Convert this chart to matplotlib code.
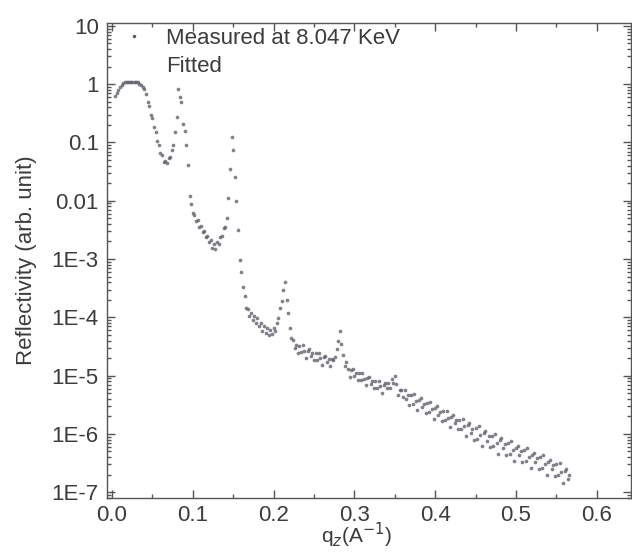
import matplotlib
matplotlib.use('Agg')
import matplotlib.pyplot as plt
import numpy as np
from matplotlib.lines import Line2D
from matplotlib.ticker import MultipleLocator, LogLocator, NullFormatter

plt.rcParams['font.family'] = ['Liberation Sans', 'DejaVu Sans']

# Measured reflectivity (log10 of R)
q_meas = [0.004, 0.006, 0.008, 0.010, 0.012, 0.014, 0.016, 0.018, 0.020, 0.022,
          0.024, 0.026, 0.028, 0.030, 0.032, 0.034, 0.036, 0.038, 0.040, 0.042,
          0.044, 0.046, 0.048, 0.050, 0.052, 0.054, 0.056, 0.058, 0.060, 0.062,
          0.064, 0.066, 0.068, 0.070, 0.072, 0.074, 0.076, 0.078, 0.080, 0.082,
          0.084, 0.086, 0.088, 0.090, 0.092, 0.094, 0.096, 0.098, 0.100, 0.102,
          0.104, 0.106, 0.108, 0.110, 0.112, 0.114, 0.116, 0.118, 0.120, 0.122,
          0.124, 0.126, 0.128, 0.130, 0.132, 0.134, 0.136, 0.138, 0.140, 0.142,
          0.144, 0.146, 0.148, 0.150, 0.152, 0.154, 0.156, 0.158, 0.160, 0.162,
          0.164, 0.166, 0.168, 0.170, 0.172, 0.174, 0.176, 0.178, 0.180, 0.182,
          0.184, 0.186, 0.188, 0.190, 0.192, 0.194, 0.196, 0.198, 0.200, 0.202,
          0.204, 0.206, 0.208, 0.210, 0.212, 0.214, 0.216, 0.218, 0.220, 0.222,
          0.224, 0.226, 0.228, 0.230, 0.232, 0.234, 0.236, 0.238, 0.240, 0.242,
          0.244, 0.246, 0.248, 0.250, 0.252, 0.254, 0.256, 0.258, 0.260, 0.262,
          0.264, 0.266, 0.268, 0.270, 0.272, 0.274, 0.276, 0.278, 0.280, 0.282,
          0.284, 0.286, 0.288, 0.290, 0.292, 0.294, 0.296, 0.298, 0.300, 0.302,
          0.304, 0.306, 0.308, 0.310, 0.312, 0.314, 0.316, 0.318, 0.320, 0.322,
          0.324, 0.326, 0.328, 0.330, 0.332, 0.334, 0.336, 0.338, 0.340, 0.342,
          0.344, 0.346, 0.348, 0.350, 0.352, 0.354, 0.356, 0.358, 0.360, 0.362,
          0.364, 0.366, 0.368, 0.370, 0.372, 0.374, 0.376, 0.378, 0.380, 0.382,
          0.384, 0.386, 0.388, 0.390, 0.392, 0.394, 0.396, 0.398, 0.400, 0.402,
          0.404, 0.406, 0.408, 0.410, 0.412, 0.414, 0.416, 0.418, 0.420, 0.422,
          0.424, 0.426, 0.428, 0.430, 0.432, 0.434, 0.436, 0.438, 0.440, 0.442,
          0.444, 0.446, 0.448, 0.450, 0.452, 0.454, 0.456, 0.458, 0.460, 0.462,
          0.464, 0.466, 0.468, 0.470, 0.472, 0.474, 0.476, 0.478, 0.480, 0.482,
          0.484, 0.486, 0.488, 0.490, 0.492, 0.494, 0.496, 0.498, 0.500, 0.502,
          0.504, 0.506, 0.508, 0.510, 0.512, 0.514, 0.516, 0.518, 0.520, 0.522,
          0.524, 0.526, 0.528, 0.530, 0.532, 0.534, 0.536, 0.538, 0.540, 0.542,
          0.544, 0.546, 0.548, 0.550, 0.552, 0.554, 0.556, 0.558, 0.560, 0.562,
          0.564, 0.566]

logR_meas = [-0.21, -0.15, -0.10, -0.05, -0.01, 0.02, 0.03, 0.04, 0.04, 0.045,
             0.045, 0.045, 0.04, 0.035, 0.03, 0.01, -0.01, -0.04, -0.08, -0.16,
             -0.30, -0.38, -0.52, -0.58, -0.74, -0.82, -0.98, -1.04, -1.18, -1.22,
             -1.34, -1.31, -1.36, -1.27, -1.25, -1.13, -1.04, -0.82, -0.56, -0.09,
             -0.22, -0.30, -0.68, -0.80, -1.05, -1.38, -1.92, -2.05, -2.21, -2.24,
             -2.35, -2.33, -2.45, -2.43, -2.54, -2.52, -2.63, -2.60, -2.71, -2.68,
             -2.81, -2.74, -2.82, -2.71, -2.75, -2.62, -2.61, -2.47, -2.45, -2.30,
             -1.95, -1.45, -0.91, -1.13, -1.59, -2.00, -2.50, -3.02, -3.22, -3.48,
             -3.63, -3.84, -3.85, -3.98, -3.92, -4.04, -3.97, -4.09, -4.02, -4.15,
             -4.09, -4.24, -4.15, -4.27, -4.19, -4.30, -4.21, -4.29, -4.19, -4.23,
             -4.10, -4.02, -3.84, -3.72, -3.53, -3.40, -3.70, -3.92, -4.18, -4.36,
             -4.39, -4.52, -4.48, -4.61, -4.49, -4.60, -4.48, -4.58, -4.69, -4.57,
             -4.55, -4.66, -4.62, -4.74, -4.62, -4.73, -4.61, -4.70, -4.81, -4.68,
             -4.66, -4.77, -4.72, -4.84, -4.71, -4.73, -4.68, -4.55, -4.40, -4.24,
             -4.45, -4.65, -4.84, -4.77, -4.89, -5.02, -4.90, -4.89, -5.00, -4.95,
             -5.08, -4.96, -5.07, -4.96, -5.05, -5.16, -5.04, -5.02, -5.14, -5.09,
             -5.21, -5.10, -5.21, -5.09, -5.18, -5.29, -5.16, -5.13, -5.22, -5.13,
             -5.21, -5.05, -5.13, -5.01, -5.15, -5.33, -5.24, -5.24, -5.36, -5.25,
             -5.40, -5.34, -5.50, -5.33, -5.48, -5.32, -5.44, -5.59, -5.42, -5.39,
             -5.54, -5.48, -5.64, -5.47, -5.62, -5.46, -5.58, -5.74, -5.56, -5.53,
             -5.68, -5.62, -5.78, -5.61, -5.77, -5.60, -5.73, -5.88, -5.71, -5.68,
             -5.82, -5.77, -5.92, -5.76, -5.91, -5.75, -5.87, -6.03, -5.85, -5.81,
             -5.98, -5.91, -6.10, -5.90, -6.08, -5.87, -6.02, -6.21, -5.98, -5.95,
             -6.12, -6.04, -6.23, -6.03, -6.21, -6.00, -6.15, -6.34, -6.11, -6.07,
             -6.25, -6.17, -6.36, -6.16, -6.34, -6.13, -6.27, -6.47, -6.24, -6.20,
             -6.37, -6.30, -6.49, -6.28, -6.46, -6.25, -6.40, -6.59, -6.36, -6.32,
             -6.49, -6.42, -6.61, -6.40, -6.58, -6.37, -6.52, -6.71, -6.48, -6.44,
             -6.61, -6.54, -6.73, -6.52, -6.71, -6.50, -6.65, -6.85, -6.63, -6.60,
             -6.78, -6.71]

y_ticks = [1e1, 1e0, 1e-1, 1e-2, 1e-3, 1e-4, 1e-5, 1e-6, 1e-7]
y_labels = ['10', '1', '0.1', '0.01', '1E-3', '1E-4', '1E-5', '1E-6', '1E-7']
x_ticks = [0.0, 0.1, 0.2, 0.3, 0.4, 0.5, 0.6]
x_labels = ['0.0', '0.1', '0.2', '0.3', '0.4', '0.5', '0.6']

txt = '#3c3c3c'
fig = plt.figure(figsize=(6.32, 5.55), dpi=100)
ax = fig.add_axes([107 / 632, 1 - 498 / 555, 524 / 632, 475 / 555])

R_meas = 10 ** np.array(logR_meas)
ax.scatter(q_meas, R_meas, s=7, color='#62626e', linewidths=0, alpha=0.8)

ax.set_yscale('log')
ax.set_xlim(-0.0062, 0.6423)
ax.set_ylim(10 ** -7.1, 10 ** 1.05)

ax.set_yticks(y_ticks, y_labels)
ax.yaxis.set_minor_locator(LogLocator(base=10, subs=np.arange(2, 10), numticks=20))
ax.yaxis.set_minor_formatter(NullFormatter())
ax.set_xticks(x_ticks, x_labels)
ax.xaxis.set_minor_locator(MultipleLocator(0.05))

ax.tick_params(which='both', direction='in', top=True, right=True, colors='#555555',
               labelcolor=txt, labelsize=16, width=1)
ax.tick_params(which='major', length=6)
ax.tick_params(which='minor', length=3)
ax.tick_params(axis='y', pad=6)
ax.tick_params(axis='x', pad=5)
for s in ax.spines.values():
    s.set_color('#555555')
    s.set_linewidth(1)

ax.set_ylabel('Reflectivity (arb. unit)', fontsize=16, color=txt)
ax.yaxis.set_label_coords(-0.134, 0.5)
ax.set_xlabel('q$_z$(A$^{-1}$)', fontsize=15, color=txt)
ax.xaxis.set_label_coords(0.477, -0.047)

handles = [Line2D([], [], ls='none', marker='.', ms=3, color='#5e5e6a'),
           Line2D([], [], ls='none', marker='none')]
ax.legend(handles, ['Measured at 8.047 KeV', 'Fitted'], loc='upper left',
          bbox_to_anchor=(0.019, 0.989), frameon=False, fontsize=16,
          handlelength=1.5, handletextpad=0.7, labelspacing=0.3,
          borderaxespad=0, borderpad=0, labelcolor=txt)

fig.savefig('out.png', dpi=100)
